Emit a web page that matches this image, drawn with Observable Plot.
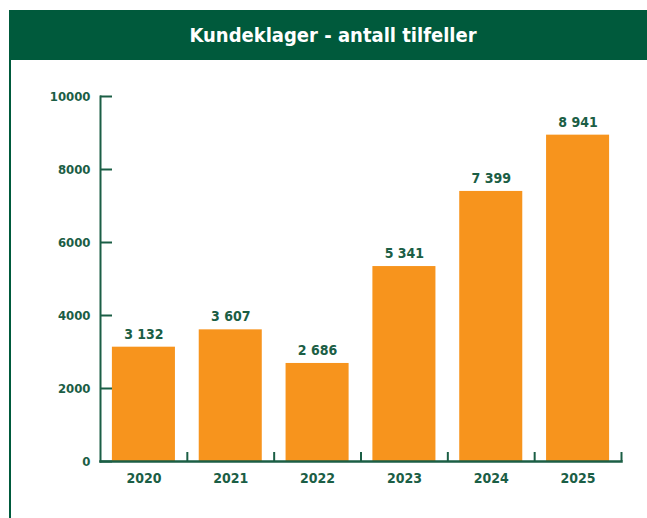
<!DOCTYPE html>
<html>
<head>
<meta charset="utf-8">
<script src="https://cdn.jsdelivr.net/npm/d3@7"></script>
<script src="https://cdn.jsdelivr.net/npm/@observablehq/plot@0.6"></script>
<style>
  body { margin: 0; background: #fff; }
  #wrap { position: relative; width: 647px; height: 518px; overflow: hidden; background: #fff;
    font-family: "DejaVu Sans Condensed", "Liberation Sans Narrow", Roboto, sans-serif; }
  #header { position: absolute; left: 9px; top: 10px; width: 648px; height: 50px; background: #005a3c;
    color: #fff; font-weight: bold; font-size: 20px; display: flex; align-items: center; justify-content: center; }
  #border { position: absolute; left: 9px; top: 60px; width: 2px; height: 458px; background: #005a3c; }
  #chart { position: absolute; left: 0; top: 60px; }
</style>
</head>
<body>
<div id="wrap">
  <div id="header">Kundeklager - antall tilfeller</div>
  <div id="border"></div>
  <div id="chart"></div>
</div>
<script>
const years = ["2020", "2021", "2022", "2023", "2024", "2025"];
const complaints = [3132, 3607, 2686, 5341, 7399, 8941];
const yTicks = [0, 2000, 4000, 6000, 8000, 10000];

const data = years.map((y, i) => ({year: y, value: complaints[i]}));
const green = "#1b5e45";
const fmt = d3.formatLocale({thousands: " ", grouping: [3], decimal: ","}).format(",d");

const W = 647, H = 458, ML = 100, MR = 26, MT = 36, MB = 57;
const halfStep = (W - ML - MR) / years.length / 2;

const chart = Plot.plot({
  width: W,
  height: H,
  marginLeft: ML,
  marginRight: MR,
  marginTop: MT,
  marginBottom: MB,
  style: {fontFamily: '"DejaVu Sans Condensed", "Liberation Sans Narrow", Roboto, sans-serif', fontWeight: "bold", color: green, background: "transparent"},
  x: {domain: years, paddingInner: 0.274, paddingOuter: 0.137, round: false, label: null},
  y: {domain: [0, 10000], label: null},
  marks: [
    Plot.barY(data, {x: "year", y: "value", fill: "#f7941d"}),
    Plot.text(data, {x: "year", y: "value", text: d => fmt(d.value), dy: -13, fill: green, fontSize: 14, fontWeight: "bold"}),
    Plot.axisY(yTicks, {tickSize: -12, tickPadding: 22, tickFormat: "d", stroke: green, strokeWidth: 2, fill: green, fontSize: 13, fontWeight: "bold"}),
    Plot.axisX({tickSize: 0, tickPadding: 12, fill: green, fontSize: 14, fontWeight: "bold"}),
    Plot.axisX({tickSize: -9, text: null, dx: halfStep, stroke: green, strokeWidth: 2}),
    Plot.frame({anchor: "left", stroke: green, strokeWidth: 2}),
    Plot.frame({anchor: "bottom", stroke: green, strokeWidth: 2.5})
  ]
});
document.getElementById("chart").appendChild(chart);
</script>
</body>
</html>
